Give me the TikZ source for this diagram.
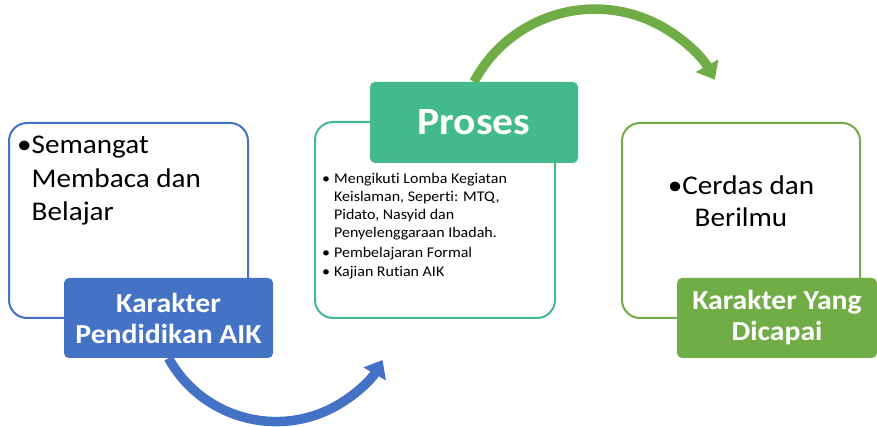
\documentclass[tikz,border=0pt]{standalone}
\usepackage{fontspec}
\setmainfont{Carlito}[FakeStretch=1.08, Ligatures=NoCommon]
\usetikzlibrary{arrows.meta}
\usetikzlibrary{backgrounds}
\usetikzlibrary{positioning}

\definecolor{aikblue}{HTML}{4472C4}
\definecolor{aikteal}{HTML}{43BA8C}
\definecolor{aikgreen}{HTML}{70AD47}

\tikzset{
    outline/.style={draw=#1, line width=2pt, rounded corners=18pt, fill=white,
        minimum width=239pt, minimum height=195pt, inner sep=0pt},
    tag/.style={fill=#1, rounded corners=5pt, text=white, align=center,
        font=\bfseries\fontsize{27.5}{31}\selectfont, inner sep=0pt},
    bend/.style={draw=#1, line width=9.5pt, -{Triangle[length=16pt,width=25pt]}},
}

\begin{document}
\begin{tikzpicture}[x=1pt,y=1pt]
    \useasboundingbox (0,0) rectangle (877,427);

    \coordinate (input) at (128.5,206.5);
    \coordinate (process) at (435,207);
    \coordinate (output) at (741,206.5);

    % boxes
    \node[outline=aikblue] (inbox) at (input) {};
    \node[outline=aikteal, minimum width=240pt, minimum height=196pt] (probox) at (process) {};
    \node[outline=aikgreen, minimum width=238pt] (outbox) at (output) {};

    \node[tag=aikblue, minimum width=209pt, minimum height=80pt] (intag) at (168.5,109)
        {Karakter\\Pendidikan AIK};
    \node[tag=aikteal, minimum width=208pt, minimum height=81pt,
        font=\bfseries\fontsize{38.5}{46}\selectfont] (protag) at (474,304.5) {Proses};
    \node[tag=aikgreen, minimum width=200pt, minimum height=80pt] (outtag) at (777,109)
        {Karakter Yang\\Dicapai};

    % texts
    \node[anchor=north west, inner sep=0pt, font=\fontsize{27}{33.5}\selectfont] (intext)
        at (17,297) {\begin{tabular}{@{}l@{}l@{}}
            •&Semangat\\ &Membaca dan\\ &Belajar
        \end{tabular}};
    \node[anchor=north west, inner sep=0pt, font=\fontsize{14.8}{18}\selectfont] (protext)
        at (322,256) {\begin{tabular}{@{}l@{\hspace{4pt}}l@{}}
            •&Mengikuti Lomba Kegiatan\\
             &Keislaman, Seperti: MTQ,\\
             &Pidato, Nasyid dan\\
             &Penyelenggaraan Ibadah.\\[1.5pt]
            •&Pembelajaran Formal\\[1.5pt]
            •&Kajian Rutian AIK
        \end{tabular}};
    \node[align=center, inner sep=0pt, font=\fontsize{27}{32}\selectfont] (outtext)
        at (741,226) {•Cerdas dan\\Berilmu};

    % arrows
    \begin{scope}[on background layer]
        \draw[bend=aikblue] (intag.south) arc[start angle=209, end angle=330, radius=123];
        \draw[bend=aikgreen] (protag.north) arc[start angle=152, end angle=29, radius=137];
    \end{scope}
\end{tikzpicture}
\end{document}
